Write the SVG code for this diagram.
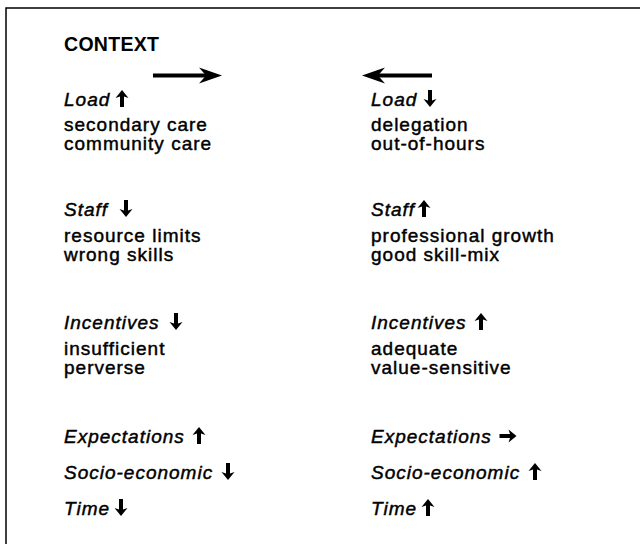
<svg xmlns="http://www.w3.org/2000/svg" width="640" height="544" viewBox="0 0 640 544">
<style>
.t{font-family:"Liberation Sans",Arial,sans-serif;font-size:19px;letter-spacing:1px;fill:#000;stroke:#000;stroke-width:0.45}
.h{font-style:italic}
.b{font-weight:bold;font-size:19.5px;letter-spacing:0.3px;stroke-width:0}
</style>
<defs>
<path id="up" d="M0,-16 L6.5,-8 L2,-9.5 L2,1 L-2,1 L-2,-9.5 L-6.5,-8 Z" fill="#000"/>
</defs>
<rect width="640" height="544" fill="#fff"/>
<g id="frame" stroke="#000" stroke-width="1.5" fill="none">
<path d="M640,8 H6 V544"/>
</g>
<g id="title"><text class="t b" x="64" y="51">CONTEXT</text></g>
<g id="connectors" fill="#000">
<path d="M153,73.5 H212 V77.5 H153 Z"/>
<path d="M222,75.5 L199,67.5 L206,75.5 L199,83.5 Z"/>
<path d="M432,73.5 H372 V77.5 H432 Z"/>
<path d="M362,75.5 L385,67.5 L378,75.5 L385,83.5 Z"/>
</g>
<g id="left-load"><text class="t h" x="64" y="106">Load</text><use href="#up" transform="translate(122,106)"/>
<text class="t" x="64" y="131">secondary care</text><text class="t" x="64" y="150">community care</text></g>
<g id="right-load"><text class="t h" x="371" y="106">Load</text><use href="#up" transform="translate(430,98.5) rotate(180) translate(0,7.5)"/>
<text class="t" x="371" y="131">delegation</text><text class="t" x="371" y="150">out-of-hours</text></g>
<g id="left-staff"><text class="t h" x="64" y="216">Staff</text><use href="#up" transform="translate(126,208.5) rotate(180) translate(0,7.5)"/>
<text class="t" x="64" y="242">resource limits</text><text class="t" x="64" y="261">wrong skills</text></g>
<g id="right-staff"><text class="t h" x="371" y="216">Staff</text><use href="#up" transform="translate(424,216)"/>
<text class="t" x="371" y="242">professional growth</text><text class="t" x="371" y="261">good skill-mix</text></g>
<g id="left-inc"><text class="t h" x="64" y="329">Incentives</text><use href="#up" transform="translate(176,321.5) rotate(180) translate(0,7.5)"/>
<text class="t" x="64" y="355">insufficient</text><text class="t" x="64" y="374">perverse</text></g>
<g id="right-inc"><text class="t h" x="371" y="329">Incentives</text><use href="#up" transform="translate(481,329)"/>
<text class="t" x="371" y="355">adequate</text><text class="t" x="371" y="374">value-sensitive</text></g>
<g id="left-exp"><text class="t h" x="64" y="443">Expectations</text><use href="#up" transform="translate(199,443)"/></g>
<g id="right-exp"><text class="t h" x="371" y="443">Expectations</text><use href="#up" transform="translate(508,436) rotate(90) translate(0,7.5)"/></g>
<g id="left-soc"><text class="t h" x="64" y="479">Socio-economic</text><use href="#up" transform="translate(228,471.5) rotate(180) translate(0,7.5)"/></g>
<g id="right-soc"><text class="t h" x="371" y="479">Socio-economic</text><use href="#up" transform="translate(535,479)"/></g>
<g id="left-time"><text class="t h" x="64" y="515">Time</text><use href="#up" transform="translate(121,507.5) rotate(180) translate(0,7.5)"/></g>
<g id="right-time"><text class="t h" x="371" y="515">Time</text><use href="#up" transform="translate(428,515)"/></g>
</svg>
